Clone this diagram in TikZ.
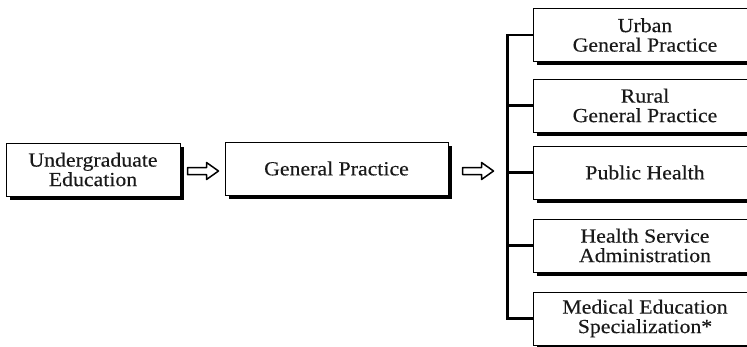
\documentclass[tikz,border=0pt]{standalone}
\usepackage{fontspec}
\setmainfont[FakeStretch=1.09,FakeBold=0.25]{Liberation Serif}
\usetikzlibrary{shadows,calc}
\tikzset{
  gbox/.style={draw=black, fill=white, line width=1pt, minimum width=#1,
    minimum height=53pt, inner sep=0pt, align=center, text=black!90,
    font=\fontsize{20}{19.5}\selectfont,
    drop shadow={shadow xshift=3.5pt, shadow yshift=-3.5pt, fill=black, opacity=1}},
  barrow/.style={draw=black, fill=white, line width=1.5pt, line join=round},
  branch/.style={draw=black, line width=2.8pt, line join=miter},
}
\begin{document}
\begin{tikzpicture}[x=1pt,y=-1pt]
\useasboundingbox (0,0) rectangle (747,346);
\clip (0,0) rectangle (747,346);
\fill[white] (0,0) rectangle (747,346);
% left boxes
\node[gbox=174pt] (ug) at (93,169.5) {Undergraduate\\Education};
\node[gbox=223pt] (gp) at (336.5,168.5) {General Practice};
% right boxes
\node[gbox=224pt] (u) at (645,35) {Urban\\General Practice};
\node[gbox=224pt] (r) at (645,105.5) {Rural\\General Practice};
\node[gbox=224pt] (ph) at (645,172.5) {Public Health};
\node[gbox=224pt] (hs) at (645,245.5) {Health Service\\Administration};
\node[gbox=224pt] (me) at (645,318.5) {Medical Education\\Specialization*};
% trunk
\coordinate (tr) at ($(ph.west)+(-25,-1.5)$);
\draw[branch] (u.west) -| (tr) |- (me.west);
\draw[branch] (r.west) -- (r.west -| tr);
\draw[branch] (ph.west) -- (ph.west -| tr);
\draw[branch] (hs.west) -- (hs.west -| tr);
% block arrows
\draw[barrow, shift={($(ug.east)+(7,1.5)$)}]
  (0,-3.5) -- (19,-3.5) -- (19,-8.5) -- (31,0) -- (19,8.5) -- (19,3.5) -- (0,3.5) -- cycle;
\draw[barrow, shift={($(tr)+(-45,0)$)}]
  (0,-3.5) -- (19,-3.5) -- (19,-8.5) -- (31,0) -- (19,8.5) -- (19,3.5) -- (0,3.5) -- cycle;
\end{tikzpicture}
\end{document}
